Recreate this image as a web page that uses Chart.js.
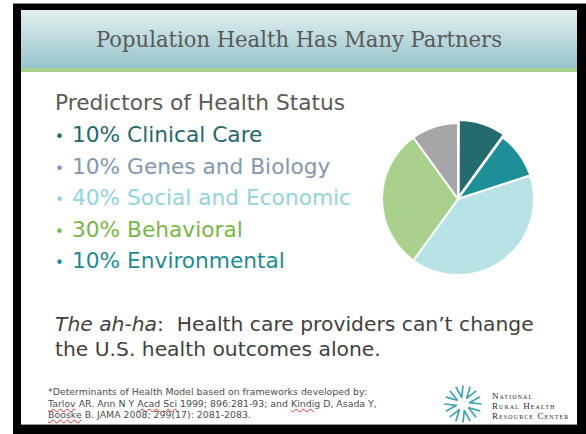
<!DOCTYPE html>
<html><head><meta charset="utf-8">
<script src="https://cdn.jsdelivr.net/npm/chart.js@4.4.1/dist/chart.umd.min.js"></script>
<style>
html,body{margin:0;padding:0;width:586px;height:434px;overflow:hidden;background:#fff;}
.abs{position:absolute;white-space:nowrap;line-height:1;}
.body{font-family:"DejaVu Sans",Verdana,sans-serif;}
.foot{font-size:9.4px;color:#4d4d4d;left:48px;}
.logo{left:492px;font-family:'Liberation Serif',serif;font-size:9px;font-variant:small-caps;color:#2a2a2a;letter-spacing:1.1px;line-height:10px;}
.sp{text-decoration:underline wavy #e03030;text-decoration-thickness:1px;text-underline-offset:1px;}
</style></head><body>
<div style="position:absolute;left:13px;top:3px;width:573px;height:431px;background:#000;border-top:1px solid #8a8a8a;box-sizing:border-box"></div>
<div style="position:absolute;left:21px;top:10px;width:556px;height:414px;background:#fff;border-bottom:1px solid #9a9a9a;"></div>
<div style="position:absolute;left:21px;top:10px;width:556px;height:58px;background:linear-gradient(#e4f0f0,#96c3cb)"></div>
<div style="position:absolute;left:21px;top:68px;width:556px;height:4px;background:#a9d18e"></div>

<div id="title" class="abs" data-base="47" data-cx="299" data-w="406" style="font-family:'DejaVu Serif',serif;font-size:23px;color:#5a5a5a;">Population Health Has Many Partners</div>

<div id="heading" class="abs body" data-base="110" style="left:55px;font-size:21.7px;color:#595959;">Predictors of Health Status</div>
<div id="list"></div>

<div class="abs body" data-base="331" style="left:55px;font-size:20.3px;color:#3f3f3f;"><i>The ah-ha</i>:&nbsp; Health care providers can’t change</div>
<div class="abs body" data-base="356" style="left:55px;font-size:20.3px;color:#3f3f3f;">the U.S. health outcomes alone.</div>

<div class="abs body foot" data-base="395">*Determinants of Health Model based on frameworks developed by:</div>
<div class="abs body foot" data-base="406.5"><span class="sp">Tarlov</span> AR. Ann N Y <span class="sp">Acad</span> <span class="sp">Sci</span> 1999; 896:281-93; and <span class="sp">Kindig</span> D, Asada Y,</div>
<div class="abs body foot" data-base="418"><span class="sp">Booske</span> B. JAMA 2008; 299(17): 2081-2083.</div>

<svg id="star" style="position:absolute;left:443px;top:384px;" width="40" height="40"></svg>
<div class="abs logo" data-base="399">National<br>Rural Health<br>Resource Center</div>

<canvas id="pie" width="200" height="200" style="position:absolute;left:358px;top:99px;width:200px;height:200px;"></canvas>

<script>
// ---- data ----
const categories = ['Clinical Care','Environmental','Social and Economic','Behavioral','Genes and Biology'];
const shares = [10, 10, 40, 30, 10];
const listOrder = ['Clinical Care','Genes and Biology','Social and Economic','Behavioral','Environmental'];

// ---- styles ----
const sliceColors = {'Clinical Care':'#246a6e','Environmental':'#1e8f96','Social and Economic':'#b7e3e7','Behavioral':'#a9d08c','Genes and Biology':'#a6a6a8'};
const textColors = {'Clinical Care':'#25686c','Genes and Biology':'#8597b0','Social and Economic':'#93d3da','Behavioral':'#79b64a','Environmental':'#1f8c94'};

// bullet list built from the data
const list = document.getElementById('list');
const bases = [142, 173.5, 205, 236.5, 268];
listOrder.forEach((name, k) => {
  const i = categories.indexOf(name);
  const b = document.createElement('div');
  b.className = 'abs body';
  b.dataset.base = bases[k];
  b.style.cssText = 'left:55px;font-size:21.7px;color:' + textColors[name];
  b.innerHTML = '<span style="display:inline-block;width:17px;font-size:15px;">•</span>' + shares[i] + '% ' + name;
  list.appendChild(b);
});

// position text by baseline
document.querySelectorAll('[data-base]').forEach(el => {
  el.style.top = '0px';
  const probe = document.createElement('span');
  probe.style.cssText = 'display:inline-block;width:0;height:0;vertical-align:baseline;';
  el.insertBefore(probe, el.firstChild);
  const off = probe.getBoundingClientRect().top - el.getBoundingClientRect().top;
  el.removeChild(probe);
  el.style.top = (parseFloat(el.dataset.base) - off) + 'px';
  if (el.dataset.w) {
    const w = el.getBoundingClientRect().width;
    const s = parseFloat(el.dataset.w) / w;
    el.style.transformOrigin = '0 0';
    el.style.transform = 'scaleX(' + s + ')';
    el.style.left = (parseFloat(el.dataset.cx) - parseFloat(el.dataset.w) / 2) + 'px';
  }
});

// logo star
const svg = document.getElementById('star');
let s = '';
for (let a = 0; a < 360; a += 22.5) {
  const t = a * Math.PI / 180;
  const tilt = (Math.round(a / 22.5) % 2 ? 0.18 : -0.18);
  const x1 = 20 + 7 * Math.sin(t + tilt), y1 = 20 - 7 * Math.cos(t + tilt);
  const x2 = 20 + 18 * Math.sin(t), y2 = 20 - 18 * Math.cos(t);
  s += `<line x1="${x1.toFixed(1)}" y1="${y1.toFixed(1)}" x2="${x2.toFixed(1)}" y2="${y2.toFixed(1)}" stroke="#3aa5af" stroke-width="1.7" stroke-linecap="round"/>`;
}
svg.innerHTML = s;

// pie
new Chart(document.getElementById('pie'), {
  type: 'pie',
  data: {
    labels: categories,
    datasets: [{
      data: shares,
      backgroundColor: categories.map(c => sliceColors[c]),
      borderColor: '#ffffff',
      borderWidth: 2,
      radius: 76,
      offset: ctx => ctx.dataIndex === 0 ? 9 : 0
    }]
  },
  options: {
    responsive: false,
    animation: false,
    events: [],
    layout: { padding: 0 },
    plugins: { legend: { display: false }, tooltip: { enabled: false } }
  }
});
</script>
</body></html>
